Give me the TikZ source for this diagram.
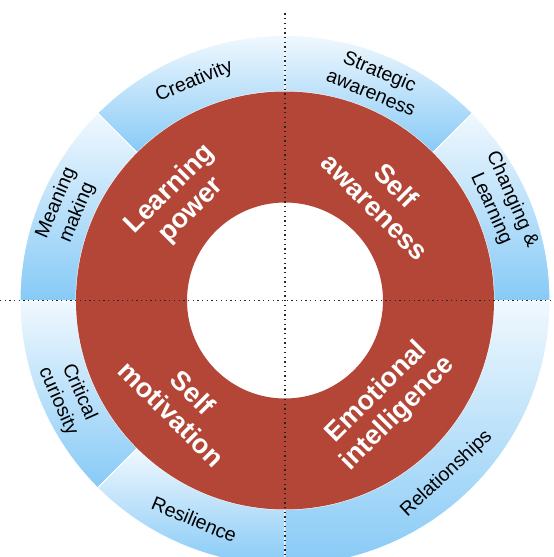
\documentclass[tikz,border=0pt]{standalone}
\usepackage{fontspec}
\setmainfont{Liberation Sans}

\definecolor{wheelred}{RGB}{180,70,56}
\definecolor{wheelblue}{RGB}{135,202,246}
\definecolor{wheellight}{RGB}{240,248,254}

\begin{document}
\begin{tikzpicture}[align=center,
    segment/.style={top color=wheellight, bottom color=wheelblue, draw=white, line width=1pt},
    skill/.style={font=\fontsize{19.5}{23}\selectfont, text=black},
    power/.style={font=\fontsize{27}{30}\selectfont\bfseries, text=white},
    axisline/.style={line width=1.3pt, dash pattern=on 1.3pt off 3.4pt, black!85}]
  \def \rout {265pt}
  \def \rred {209pt}
  \def \rhole {98pt}
  \def \rskill {237pt}
  \def \rpower {145pt}

  \useasboundingbox (-285pt,-256.5pt) rectangle (269pt,300.5pt);
  \clip (-285pt,-256.5pt) rectangle (269pt,300.5pt);

  %% blue ring, one piece per skill
  \path[segment] (90:\rout) arc (90:135:\rout) -- (135:\rred) arc (135:90:\rred) -- cycle;
  \path[segment] (45:\rout) arc (45:90:\rout) -- (90:\rred) arc (90:45:\rred) -- cycle;
  \path[segment] (0:\rout) arc (0:45:\rout) -- (45:\rred) arc (45:0:\rred) -- cycle;
  \path[segment] (135:\rout) arc (135:180:\rout) -- (180:\rred) arc (180:135:\rred) -- cycle;
  \path[segment] (180:\rout) arc (180:225:\rout) -- (225:\rred) arc (225:180:\rred) -- cycle;
  \path[segment] (225:\rout) arc (225:270:\rout) -- (270:\rred) arc (270:225:\rred) -- cycle;
  \path[segment] (270:\rout) arc (270:360:\rout) -- (360:\rred) arc (360:270:\rred) -- cycle;

  %% red ring
  \fill[wheelred, even odd rule] (0,0) circle (\rred) (0,0) circle (\rhole);

  \node[skill, rotate=22.5] (creativity) at (112.5:\rskill) {Creativity};
  \node[skill, rotate=-22.5] (strategic) at (67.5:\rskill) {Strategic\\awareness};
  \node[skill, rotate=-66] (changing) at (24:\rskill) {Changing \&\\Learning};
  \node[skill, rotate=67] (meaning) at (157:\rskill) {Meaning\\making};
  \node[skill, rotate=-66] (critical) at (204:\rskill) {Critical\\curiosity};
  \node[skill, rotate=-22.5] (resilience) at (247.5:\rskill) {Resilience};
  \node[skill, rotate=43] (relationships) at (313:\rskill) {Relationships};

  \node[power, rotate=45] (learning) at (136:\rpower) {Learning\\power};
  \node[power, rotate=-45] (awareness) at (46:\rpower) {Self\\awareness};
  \node[power, rotate=-45] (motivation) at (225:\rpower) {Self\\motivation};
  \node[power, rotate=45] (emotional) at (315:\rpower) {Emotional\\intelligence};

  % dotted cross through the middle
  \coordinate (north) at (0pt,287pt);
  \coordinate (south) at (0pt,-257pt);
  \coordinate (west) at (-285pt,0pt);
  \coordinate (east) at (269pt,0pt);
  \draw[axisline] (north) -- (south);
  \draw[axisline] (west) -- (east);

\end{tikzpicture}
\end{document}
